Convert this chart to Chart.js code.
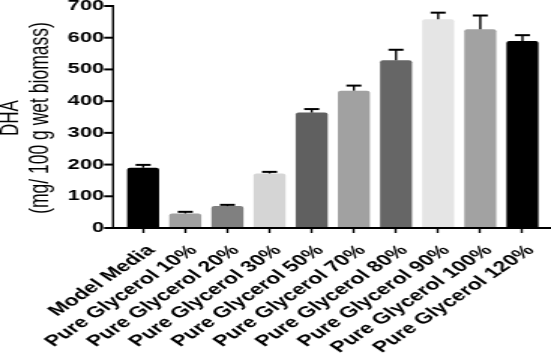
<!DOCTYPE html>
<html>
<head>
<meta charset="utf-8">
<script src="https://cdn.jsdelivr.net/npm/chart.js@4.4.1/dist/chart.umd.min.js"></script>
<style>
  html, body { margin: 0; padding: 0; background: #fff; overflow: hidden; }
  /* the source figure is stretched sideways, so draw narrow and stretch */
  #wrap { width: 367px; height: 362px; transform: scaleX(1.50136); transform-origin: 0 0; }
</style>
</head>
<body>
<div id="wrap"><canvas id="dhaChart" width="367" height="362"></canvas></div>
<script>
const categories = [
  "Model Media",
  "Pure Glycerol 10%",
  "Pure Glycerol 20%",
  "Pure Glycerol 30%",
  "Pure Glycerol 50%",
  "Pure Glycerol 70%",
  "Pure Glycerol 80%",
  "Pure Glycerol 90%",
  "Pure Glycerol 100%",
  "Pure Glycerol 120%"
];
const dhaValues = [190, 46, 69, 172, 364, 433, 529, 658, 627, 590];
const dhaErrors = [9, 5, 4, 5, 11, 16, 33, 21, 43, 18];
const barColors = ["#000000", "#a0a0a0", "#808080", "#d5d5d5", "#606060",
                   "#a1a1a1", "#666666", "#e5e5e5", "#a2a2a2", "#000000"];
const yTicks = [0, 100, 200, 300, 400, 500, 600, 700];

const fontFam = "'Liberation Sans', Arial, Helvetica, sans-serif";

// error bars (upper half only, like the figure)
const errorBars = {
  id: "errorBars",
  afterDatasetsDraw(chart) {
    const ctx = chart.ctx;
    const x = chart.scales.x;
    const y = chart.scales.y;
    ctx.save();
    ctx.strokeStyle = "#000";
    dhaValues.forEach((v, i) => {
      const px = x.getPixelForValue(i);
      const top = y.getPixelForValue(v + dhaErrors[i]);
      const base = y.getPixelForValue(v);
      ctx.lineWidth = 1.4;
      ctx.beginPath();
      ctx.moveTo(px, base);
      ctx.lineTo(px, top);
      ctx.stroke();
      ctx.lineWidth = 2;
      ctx.beginPath();
      ctx.moveTo(px - 5, top);
      ctx.lineTo(px + 5, top);
      ctx.stroke();
    });
    ctx.restore();
  }
};

// axis lines sit a little left of the first category, plus the y title
const axisLines = {
  id: "axisLines",
  afterDatasetsDraw(chart) {
    const ctx = chart.ctx;
    const y = chart.scales.y;
    const axX = 75.3;
    const y0 = y.getPixelForValue(0);
    ctx.save();
    ctx.strokeStyle = "#000";
    ctx.lineWidth = 1.4;
    ctx.beginPath();
    ctx.moveTo(axX, y.getPixelForValue(700) - 1);
    ctx.lineTo(axX, y0 + 1);
    ctx.stroke();
    yTicks.forEach((t) => {
      const py = y.getPixelForValue(t);
      ctx.lineWidth = 2;
      ctx.beginPath();
      ctx.moveTo(69.3, py);
      ctx.lineTo(axX, py);
      ctx.stroke();
    });
    ctx.lineWidth = 2;
    ctx.beginPath();
    ctx.moveTo(axX - 0.7, y0);
    ctx.lineTo(367, y0);
    ctx.stroke();

    // axis title, two lines
    const midY = (y.getPixelForValue(700) + y0) / 2 + 1;
    ctx.fillStyle = "#000";
    ctx.textAlign = "center";
    ctx.textBaseline = "middle";
    ctx.translate(7.5, midY);
    ctx.rotate(-Math.PI / 2);
    ctx.font = "17px " + fontFam;
    ctx.fillText("DHA", 0, 0);
    ctx.font = "17.5px " + fontFam;
    ctx.fillText("(mg/ 100 g wet biomass)", 0, 19.5);
    ctx.restore();
  }
};

const ctx = document.getElementById("dhaChart");
new Chart(ctx, {
  type: "bar",
  data: {
    labels: categories,
    datasets: [{
      label: "DHA",
      data: dhaValues,
      backgroundColor: barColors,
      borderWidth: 0,
      borderRadius: 2,
      barPercentage: 0.76,
      categoryPercentage: 1
    }]
  },
  options: {
    responsive: false,
    animation: false,
    devicePixelRatio: 1,
    layout: { padding: { top: 6, right: 5, left: 0, bottom: 0 } },
    plugins: {
      legend: { display: false },
      tooltip: { enabled: false }
    },
    scales: {
      x: {
        offset: true,
        grid: { display: true, drawOnChartArea: false, offset: false, tickLength: 5, tickWidth: 1.4, color: "#000" },
        border: { display: false },
        ticks: {
          color: "#000",
          font: { family: fontFam, size: 15.5, weight: "bold" },
          minRotation: 45,
          maxRotation: 45,
          autoSkip: false,
          labelOffset: 5.5,
          padding: 8.4
        },
        afterFit(s) { s.height = 134; s.paddingLeft = 0; s.paddingRight = 0; }
      },
      y: {
        min: 0,
        max: 700,
        grid: { display: false, drawTicks: false },
        border: { display: false },
        ticks: {
          stepSize: 100,
          color: "#000",
          font: { family: fontFam, size: 14.5, weight: "bold" },
          padding: 12
        },
        afterFit(s) { s.width = 81.3; s.paddingTop = 0; s.paddingBottom = 0; }
      }
    }
  },
  plugins: [errorBars, axisLines]
});
</script>
</body>
</html>
